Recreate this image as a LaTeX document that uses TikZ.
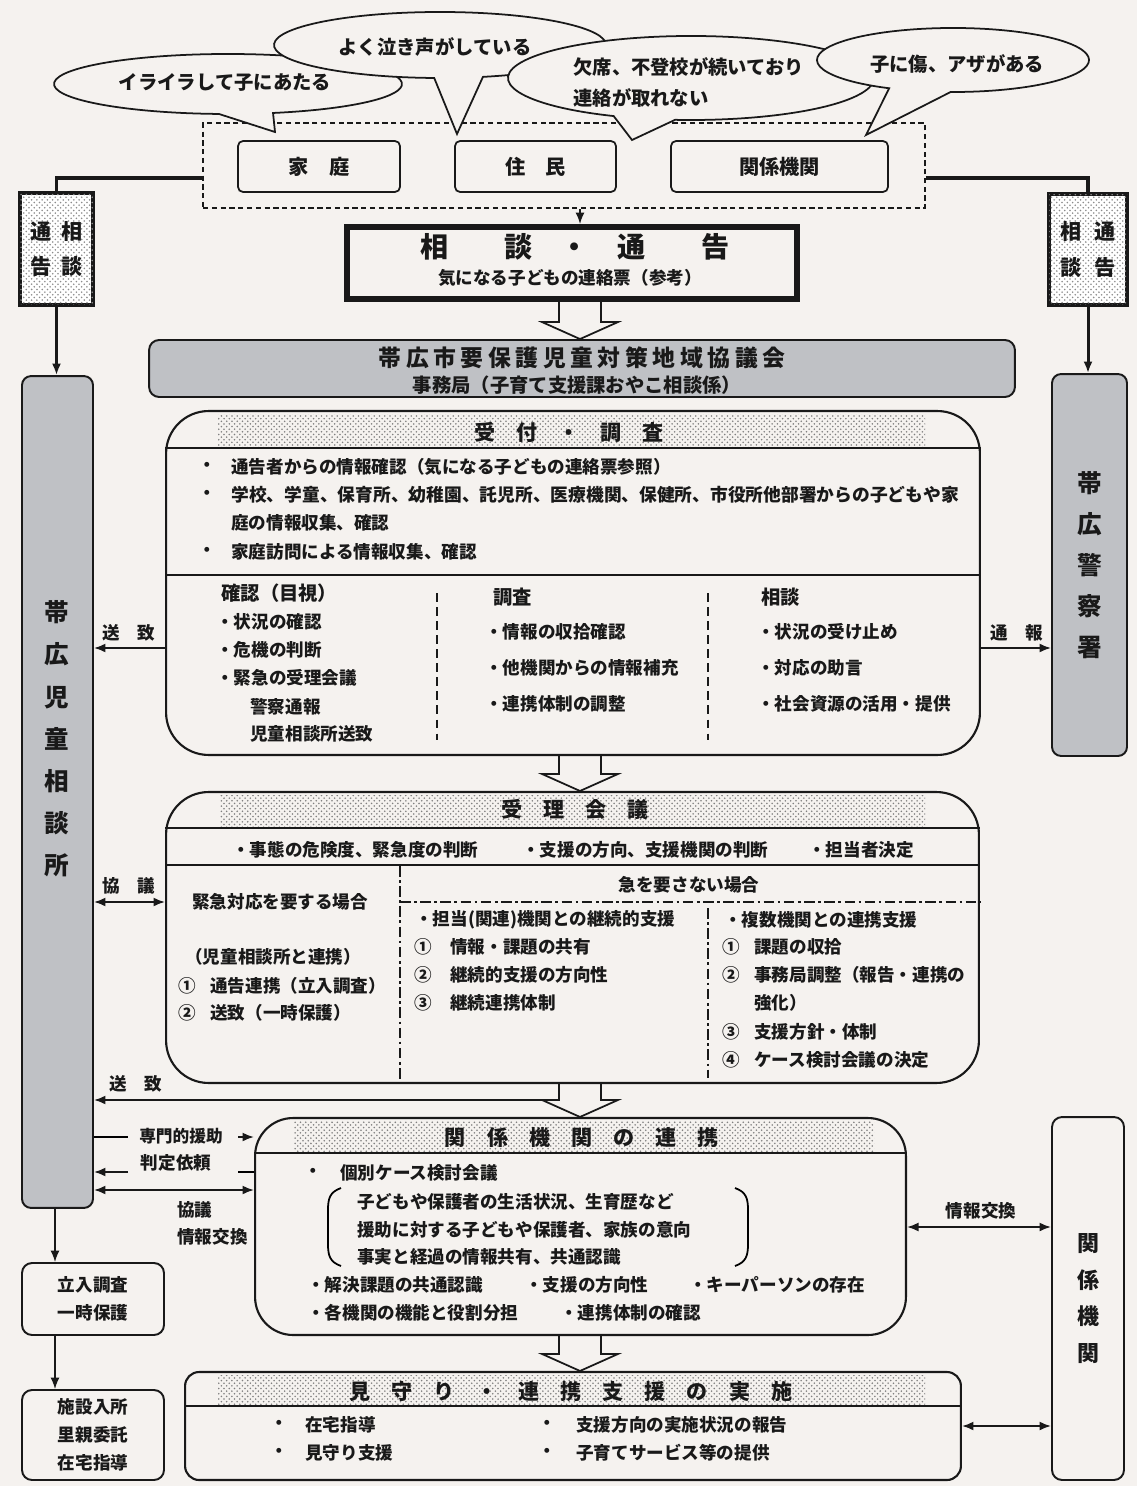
\documentclass[tikz,border=0pt]{standalone}
\usepackage{fontspec}
\setmainfont{Noto Sans CJK JP}
\newfontfamily\widejp{Noto Sans CJK JP}[LetterSpace=20]
\usetikzlibrary{arrows.meta, patterns, calc}
\definecolor{paper}{RGB}{245,242,239}
\definecolor{boxgray}{RGB}{191,193,197}
\definecolor{ink}{RGB}{25,25,25}
% hollow block arrow between two boxes
\newcommand{\hollowarrow}[2]{%
  \draw[hollow] ($(#1 -| axis)+(-21,0)$) -- ($(#2 -| axis)+(-21,-17)$)
    -- ($(#2 -| axis)+(-38,-17)$) -- (#2 -| axis)
    -- ($(#2 -| axis)+(38,-17)$) -- ($(#2 -| axis)+(21,-17)$)
    -- ($(#1 -| axis)+(21,0)$);}
\begin{document}
\begin{tikzpicture}[x=0.02cm, y=-0.02cm,
  >={Latex[length=2.3mm,width=1.8mm]},
  every node/.style={text=ink},
  txt/.style={font=\fontsize{10}{12}\selectfont\bfseries, inner sep=0pt, anchor=west},
  ctxt/.style={txt, anchor=center},
  coltitle/.style={txt, font=\fontsize{11}{12}\selectfont\bfseries},
  head/.style={font=\fontsize{12}{12}\selectfont\bfseries, inner sep=0pt},
  saytxt/.style={font=\fontsize{11}{12}\selectfont\bfseries, inner sep=0pt},
  bubble/.style={draw=ink, line width=1pt, fill=paper},
  srcbox/.style={draw=ink, line width=1pt, fill=paper, rounded corners=0.1cm,
    minimum height=1.02cm, inner sep=0pt, font=\fontsize{11.5}{12}\selectfont\bfseries},
  groupfrm/.style={draw=ink, line width=0.9pt, dash pattern=on 3pt off 2pt},
  notebox/.style={draw=ink, line width=2.6pt, fill=white,
    postaction={pattern=crosshatch dots, pattern color=black!45},
    align=center, inner sep=0pt, font=\fontsize{12}{20}\selectfont\bfseries},
  mainbox/.style={draw=ink, line width=3.4pt, fill=paper, inner sep=0pt},
  graybox/.style={draw=ink, line width=1.1pt, fill=boxgray, rounded corners=0.18cm, inner sep=0pt},
  plainbox/.style={draw=ink, line width=1.1pt, fill=paper, rounded corners=0.2cm, inner sep=0pt,
    align=center, font=\fontsize{10}{15.8}\selectfont\bfseries},
  flowbox/.style={draw=ink, line width=1.2pt, fill=paper, rounded corners=0.85cm, inner sep=0pt},
  dotband/.style={pattern=crosshatch dots, pattern color=black!50},
  sepline/.style={draw=ink, line width=1.4pt},
  colsep/.style={draw=ink, line width=0.8pt, dash pattern=on 5pt off 3pt},
  dashdot/.style={draw=ink, line width=0.8pt, dash pattern=on 6pt off 2pt on 1.5pt off 2pt},
  link/.style={draw=ink, line width=2pt},
  arr/.style={draw=ink, ->, line width=1.1pt},
  darr/.style={draw=ink, <->, line width=1.1pt},
  hollow/.style={draw=ink, line width=1pt},
  vtext/.style={align=center, inner sep=0pt, font=\fontsize{14}{24}\selectfont\bfseries}]
  \useasboundingbox (0,0) rectangle (1137,1486);
  \fill[paper] (0,0) rectangle (1137,1486);
  \coordinate (axis) at (580,0);

  % ---- sources of the report ----
  \node[groupfrm, minimum width=14.44cm, minimum height=1.7cm] (reporters) at (564,165.5) {};
  \node[srcbox, minimum width=3.24cm] (family) at (319,166.5) {家　庭};
  \node[srcbox, minimum width=3.22cm] (residents) at (535.5,166.5) {住　民};
  \node[srcbox, minimum width=4.34cm] (agencies) at (779.5,166.5) {関係機関};

  % ---- speech bubbles ----
  \draw[bubble] (228,84) ++(93:174 and 30)
    arc[start angle=93, end angle=435, x radius=174, y radius=30] -- (275,132) -- cycle;
  \node[saytxt] (say1) at (225,82) {イライラして子にあたる};
  \draw[bubble] (440,45) ++(92:166 and 33)
    arc[start angle=92, end angle=435, x radius=166, y radius=33] -- (457,134) -- cycle;
  \node[saytxt] (say2) at (435,47) {よく泣き声がしている};
  \draw[bubble] (691,78) ++(115:183 and 42)
    arc[start angle=115, end angle=455, x radius=183, y radius=42] -- (632,140) -- cycle;
  \node[saytxt, anchor=west] (say3a) at (573,67) {欠席、不登校が続いており};
  \node[saytxt, anchor=west] (say3b) at (573,98) {連絡が取れない};
  \draw[bubble] (953,60) ++(118:136 and 32)
    arc[start angle=118, end angle=451, x radius=136, y radius=32] -- (866,135) -- cycle;
  \node[saytxt] (say4) at (957,64) {子に傷、アザがある};

  % ---- consultation / report ----
  \node[notebox, minimum width=1.46cm, minimum height=2.24cm] (noteL) at (56.5,249) {通\hspace{.5em}相\\告\hspace{.5em}談};
  \node[notebox, minimum width=1.56cm, minimum height=2.22cm] (noteR) at (1088,249.5) {相\hspace{.6em}通\\談\hspace{.6em}告};
  \draw[link] ($(reporters.west)+(0,12.5)$) -| (noteL.north);
  \draw[link] ($(reporters.east)+(0,12.5)$) -| (noteR.north);
  \node[mainbox, minimum width=9cm, minimum height=1.44cm] (consult) at (572,263) {};
  \node[font=\fontsize{16}{16}\selectfont\bfseries, inner sep=0pt] (consultT) at (575,247) {相　　談　・　通　　告};
  \node[ctxt] (consultS) at (570,278) {気になる子どもの連絡票（参考）};
  \draw[arr, line width=0.8pt] (reporters.south -| axis) -- (consult.north -| axis);

  % ---- council ----
  \node[graybox, rounded corners=0.2cm, minimum width=17.32cm, minimum height=1.14cm] (council) at (582,368.5) {};
  \node[font=\widejp\fontsize{13}{13}\selectfont\bfseries, inner sep=0pt] (councilT) at (582,358) {帯広市要保護児童対策地域協議会};
  \node[font=\fontsize{11}{11}\selectfont\bfseries, inner sep=0pt] (councilS) at (577,385) {事務局（子育て支援課おやこ相談係）};
  \hollowarrow{consult.south}{council.north}

  % ---- side institutions ----
  \node[graybox, minimum width=1.42cm, minimum height=16.64cm] (jisou) at (57.5,792) {};
  \node[vtext] (jisouT) at (57,739) {帯\\広\\児\\童\\相\\談\\所};
  \node[graybox, vtext, font=\fontsize{14}{23.3}\selectfont\bfseries,
    minimum width=1.5cm, minimum height=7.64cm] (police) at (1089.5,565) {帯\\広\\警\\察\\署};
  \draw[arr, line width=1.7pt] (noteL.south) -- (noteL.south |- jisou.north);
  \draw[arr, line width=1.7pt] (noteR.south) -- (noteR.south |- police.north);

  % ---- intake and investigation ----
  \node[flowbox, minimum width=16.28cm, minimum height=6.88cm] (intake) at (573,583) {};
  \fill[dotband] (218,414) rectangle (925,447);
  \draw[sepline] (intake.west |- 0,448) -- (intake.east |- 0,448);
  \node[head] (intakeT) at (569,432) {受　付　・　調　査};
  \node[txt] (inB1) at (198,467) {・};
  \node[txt] (in1) at (231,467) {通告者からの情報確認（気になる子どもの連絡票参照）};
  \node[txt] (inB2) at (198,495) {・};
  \node[txt, font=\fontsize{10.1}{12}\selectfont\bfseries] (in2) at (231,495) {学校、学童、保育所、幼稚園、託児所、医療機関、保健所、市役所他部署からの子どもや家};
  \node[txt] (in3) at (231,523) {庭の情報収集、確認};
  \node[txt] (inB4) at (198,552) {・};
  \node[txt] (in4) at (231,552) {家庭訪問による情報収集、確認};
  \draw[sepline] (intake.west |- 0,575) -- (intake.east |- 0,575);
  \node[coltitle] (chk) at (221,593) {確認（目視）};
  \node[txt] (chk1) at (216,622) {・状況の確認};
  \node[txt] (chk2) at (216,650) {・危機の判断};
  \node[txt] (chk3) at (216,678) {・緊急の受理会議};
  \node[txt] (chk4) at (250,707) {警察通報};
  \node[txt] (chk5) at (250,734) {児童相談所送致};
  \draw[colsep] (437,593) -- (437,740);
  \node[coltitle] (inv) at (493,597) {調査};
  \node[txt] (inv1) at (485,632) {・情報の収拾確認};
  \node[txt] (inv2) at (485,668) {・他機関からの情報補充};
  \node[txt] (inv3) at (485,704) {・連携体制の調整};
  \draw[colsep] (708,593) -- (708,740);
  \node[coltitle] (cns) at (761,597) {相談};
  \node[txt] (cns1) at (757,632) {・状況の受け止め};
  \node[txt] (cns2) at (757,668) {・対応の助言};
  \node[txt] (cns3) at (757,704) {・社会資源の活用・提供};
  \draw[arr] (intake.west |- 0,648) -- (jisou.east |- 0,648);
  \node[ctxt] (sendA) at (129,633) {送　致};
  \draw[arr] (intake.east |- 0,648) -- (police.west |- 0,648);
  \node[ctxt] (report) at (1017,633) {通　報};

  % ---- acceptance meeting ----
  \node[flowbox, minimum width=16.26cm, minimum height=5.82cm] (meeting) at (572.5,937.5) {};
  \fill[dotband] (220,795) rectangle (925,827);
  \draw[sepline] (meeting.west |- 0,828) -- (meeting.east |- 0,828);
  \node[head] (meetingT) at (575,809) {受　理　会　議};
  \hollowarrow{intake.south}{meeting.north}
  \node[txt] (m1) at (232,850) {・事態の危険度、緊急度の判断};
  \node[txt] (m2) at (522,850) {・支援の方向、支援機関の判断};
  \node[txt] (m3) at (808,850) {・担当者決定};
  \draw[sepline] (meeting.west |- 0,865) -- (meeting.east |- 0,865);
  \draw[dashdot] (400,866) -- (meeting.south -| 400,0);
  \draw[dashdot] (400,902) -- (meeting.east |- 0,902);
  \draw[dashdot] (708,908) -- (708,1078);
  \node[txt] (urg) at (192,902) {緊急対応を要する場合};
  \node[txt] (urg1) at (185,957) {（児童相談所と連携）};
  \node[txt] (urg2n) at (178,986) {①};
  \node[txt] (urg2) at (210,986) {通告連携（立入調査）};
  \node[txt] (urg3n) at (178,1013) {②};
  \node[txt] (urg3) at (210,1013) {送致（一時保護）};
  \node[ctxt] (non) at (689,885) {急を要さない場合};
  \node[txt] (nonA) at (415,920) {・担当(関連)機関との継続的支援};
  \node[txt] (nonA1n) at (414,947) {①};
  \node[txt] (nonA1) at (450,947) {情報・課題の共有};
  \node[txt] (nonA2n) at (414,975) {②};
  \node[txt] (nonA2) at (450,975) {継続的支援の方向性};
  \node[txt] (nonA3n) at (414,1003) {③};
  \node[txt] (nonA3) at (450,1003) {継続連携体制};
  \node[txt] (nonB) at (724,920) {・複数機関との連携支援};
  \node[txt] (nonB1n) at (722,947) {①};
  \node[txt] (nonB1) at (754,947) {課題の収拾};
  \node[txt] (nonB2n) at (722,975) {②};
  \node[txt] (nonB2) at (754,975) {事務局調整（報告・連携の};
  \node[txt] (nonB2b) at (754,1003) {強化）};
  \node[txt] (nonB3n) at (722,1032) {③};
  \node[txt] (nonB3) at (754,1032) {支援方針・体制};
  \node[txt] (nonB4n) at (722,1060) {④};
  \node[txt] (nonB4) at (754,1060) {ケース検討会議の決定};
  \draw[darr] (jisou.east |- 0,902) -- (meeting.west |- 0,902);
  \node[ctxt] (talkA) at (129,886) {協　議};
  \coordinate (sendfrom) at (545,1100);
  \draw[arr] (sendfrom) -- (jisou.east |- sendfrom);
  \node[ctxt] (sendB) at (136,1084) {送　致};

  % ---- cooperation of agencies ----
  \node[flowbox, rounded corners=0.76cm, minimum width=13.02cm, minimum height=4.34cm] (coop) at (580.5,1226.5) {};
  \fill[dotband] (294,1121) rectangle (874,1152);
  \draw[sepline] (coop.west |- 0,1153) -- (coop.east |- 0,1153);
  \node[head] (coopT) at (582,1137) {関　係　機　関　の　連　携};
  \hollowarrow{meeting.south}{coop.north}
  \node[txt] (cp0b) at (304,1173) {・};
  \node[txt] (cp0) at (340,1173) {個別ケース検討会議};
  \draw[line width=1pt] (341,1188) .. controls (330,1192) and (328,1198) .. (328,1210)
    -- (328,1244) .. controls (328,1256) and (330,1262) .. (341,1266);
  \draw[line width=1pt] (735,1188) .. controls (746,1192) and (748,1198) .. (748,1210)
    -- (748,1244) .. controls (748,1256) and (746,1262) .. (735,1266);
  \node[txt] (cp1) at (357,1202) {子どもや保護者の生活状況、生育歴など};
  \node[txt] (cp2) at (357,1230) {援助に対する子どもや保護者、家族の意向};
  \node[txt] (cp3) at (357,1257) {事実と経過の情報共有、共通認識};
  \node[txt] (cp4) at (307,1285) {・解決課題の共通認識};
  \node[txt] (cp5) at (525,1285) {・支援の方向性};
  \node[txt] (cp6) at (689,1285) {・キーパーソンの存在};
  \node[txt] (cp7) at (307,1313) {・各機関の機能と役割分担};
  \node[txt] (cp8) at (560,1313) {・連携体制の確認};
  \coordinate (helpL) at (128,1137);
  \coordinate (helpR) at (238,1137);
  \draw[line width=1.1pt] (jisou.east |- helpL) -- (helpL);
  \draw[arr] (helpR) -- (coop.west |- helpR);
  \node[ctxt, font=\fontsize{9.5}{12}\selectfont\bfseries] (help) at (181,1136) {専門的援助};
  \coordinate (judgeL) at (128,1172);
  \coordinate (judgeR) at (238,1172);
  \draw[line width=1.1pt] (coop.west |- judgeR) -- (judgeR);
  \draw[arr] (judgeL) -- (jisou.east |- judgeL);
  \node[ctxt] (judge) at (176,1163) {判定依頼};
  \draw[darr] (jisou.east |- 0,1190) -- (coop.west |- 0,1190);
  \node[txt] (talkB) at (177,1210) {協議};
  \node[txt] (exchB) at (177,1237) {情報交換};

  % ---- watching and support ----
  \node[flowbox, rounded corners=0.28cm, minimum width=15.52cm, minimum height=2.16cm] (watch) at (573,1426) {};
  \fill[dotband] (218,1375) rectangle (925,1405);
  \draw[sepline] (watch.west |- 0,1406) -- (watch.east |- 0,1406);
  \node[head] (watchT) at (571,1392) {見　守　り　・　連　携　支　援　の　実　施};
  \hollowarrow{coop.south}{watch.north}
  \node[txt] (w1b) at (270,1425) {・};
  \node[txt] (w1) at (305,1425) {在宅指導};
  \node[txt] (w2b) at (270,1453) {・};
  \node[txt] (w2) at (305,1453) {見守り支援};
  \node[txt] (w3b) at (538,1425) {・};
  \node[txt] (w3) at (576,1425) {支援方向の実施状況の報告};
  \node[txt] (w4b) at (538,1453) {・};
  \node[txt] (w4) at (576,1453) {子育てサービス等の提供};

  % ---- related agencies (right) ----
  \node[plainbox, font=\fontsize{12.5}{21}\selectfont\bfseries,
    minimum width=1.44cm, minimum height=7.26cm] (kikanR) at (1088,1298.5) {関\\係\\機\\関};
  \draw[darr] (coop.east |- 0,1227) -- (kikanR.west |- 0,1227);
  \node[ctxt] (exchR) at (981,1211) {情報交換};
  \draw[darr] (watch.east) -- (watch.east -| kikanR.west);

  % ---- measures of the child guidance centre ----
  \node[plainbox, minimum width=2.84cm, minimum height=1.44cm] (entry) at (93,1299) {立入調査\\一時保護};
  \node[plainbox, minimum width=2.84cm, minimum height=1.8cm] (placement) at (93,1435) {施設入所\\里親委託\\在宅指導};
  \draw[arr, line width=0.8pt] (jisou.south -| 55,0) -- (entry.north -| 55,0);
  \draw[arr, line width=0.8pt] (entry.south -| 55,0) -- (placement.north -| 55,0);
\end{tikzpicture}
\end{document}
